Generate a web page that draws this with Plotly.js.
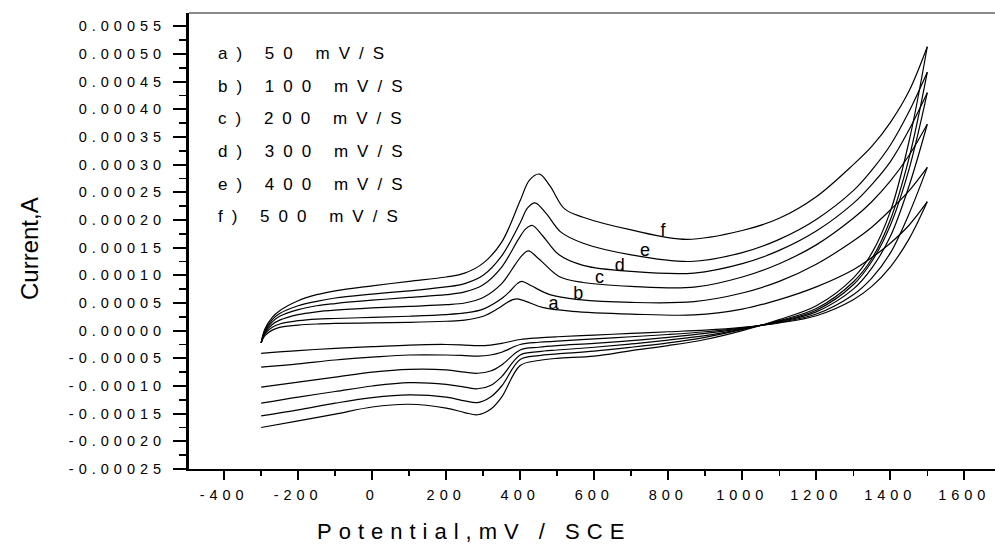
<!DOCTYPE html>
<html>
<head>
<meta charset="utf-8">
<script src="https://cdn.plot.ly/plotly-3.0.1.min.js"></script>
<style>
html, body { margin: 0; padding: 0; background: #fff; }
#chart { width: 995px; height: 548px; }
.xtick text, .ytick text { letter-spacing: 5px; }
</style>
</head>
<body>
<div id="chart"></div>
<script>
// ---------- data ----------
const scanRates = ['a) 50 mV/S', 'b) 100 mV/S', 'c) 200 mV/S', 'd) 300 mV/S', 'e) 400 mV/S', 'f) 500 mV/S'];
const curveLetters = ['a', 'b', 'c', 'd', 'e', 'f'];
const letterX = [490, 557, 614, 669, 737, 786];
const letterY = [0.0000465, 0.0000646, 0.0000935, 0.000116, 0.000143, 0.000179];

// anodic (forward) sweeps, -300 -> 1500 mV
const aUpX = [-300,-290,-270,-250,-200,-150,-100,0,100,200,250,300,340,365,380,392,415,460,540,700,870,1000,1100,1200,1300,1350,1400,1450,1500];
const aUpY = [-0.000022,-0.000009,0.000001,0.000006,0.00001,0.000012,0.000013,0.000014,0.000015,0.000017,0.000019,0.000026,0.00004,0.000051,0.000056,0.0000575,0.000053,0.000042,0.000035,0.00003,0.0000284,0.000039,0.000056,0.000079,0.00011,0.000132,0.000158,0.00019,0.000233];
const bUpX = [-300,-290,-270,-250,-200,-150,-100,0,100,200,250,300,350,375,392,404,430,480,560,700,870,1000,1100,1200,1300,1350,1400,1450,1500];
const bUpY = [-0.000022,-0.000006,0.000006,0.000012,0.000018,0.000021,0.000022,0.000024,0.000026,0.000029,0.000032,0.000039,0.000058,0.000073,0.000085,0.000089,0.000081,0.000065,0.000056,0.000051,0.0000524,0.000068,0.000089,0.00012,0.000162,0.000187,0.000218,0.000252,0.000295];
const cUpX = [-300,-290,-270,-250,-200,-150,-100,0,100,200,250,300,350,385,405,422,450,505,570,700,870,1000,1100,1200,1300,1350,1400,1450,1500];
const cUpY = [-0.000022,-0.000004,0.000011,0.000019,0.000029,0.000034,0.000037,0.000041,0.000044,0.000047,0.00005,0.00006,0.000085,0.000118,0.000136,0.000144,0.00013,0.000098,0.000087,0.00008,0.0000785,0.000097,0.000121,0.000155,0.000203,0.000233,0.00027,0.000316,0.000373];
const dUpX = [-300,-290,-270,-250,-200,-150,-100,0,100,200,250,300,350,395,415,433,460,505,570,700,870,1000,1100,1200,1300,1350,1400,1450,1500];
const dUpY = [-0.000022,-0.000002,0.000016,0.000026,0.000038,0.000045,0.000049,0.000055,0.00006,0.000065,0.00007,0.000083,0.000115,0.000165,0.000184,0.00019,0.000172,0.000137,0.000118,0.000107,0.000104,0.000121,0.000145,0.00018,0.00023,0.000264,0.000305,0.000362,0.00043];
const eUpX = [-300,-290,-270,-250,-200,-150,-100,0,100,200,250,300,350,400,420,440,470,510,570,700,860,1000,1100,1200,1300,1350,1400,1450,1500];
const eUpY = [-0.000022,0.0,0.00002,0.000031,0.000045,0.000053,0.000059,0.000066,0.000072,0.000079,0.000085,0.0001,0.000135,0.000195,0.000222,0.000231,0.000212,0.000178,0.000158,0.000137,0.000125,0.000141,0.000165,0.000201,0.000253,0.00029,0.000335,0.000395,0.000467];
const fUpX = [-300,-290,-270,-250,-200,-150,-100,0,100,200,250,300,350,400,425,452,480,520,570,700,850,1000,1100,1200,1300,1350,1400,1450,1500];
const fUpY = [-0.000022,0.000003,0.000024,0.000036,0.000054,0.000065,0.000072,0.000081,0.000089,0.000097,0.000104,0.000122,0.00016,0.000235,0.000272,0.000283,0.000262,0.00022,0.000205,0.000182,0.000165,0.000181,0.000203,0.000242,0.0003,0.000333,0.000376,0.000432,0.000513];

// cathodic (reverse) sweeps, 1500 -> -300 mV
const lowX = [1500,1450,1400,1350,1300,1200,1100,1000,900,800,700,600,500,450,400,350,320,285,250,200,100,0,-100,-200,-300];
const aLowY = [0.000233,0.000165,0.000115,0.00008,0.000056,0.000027,0.000014,0.000006,0.000001,-0.000002,-0.000005,-0.000008,-0.000011,-0.000013,-0.000016,-0.000023,-0.000026,-0.000027,-0.000026,-0.000025,-0.000026,-0.000029,-0.000032,-0.000036,-0.000041];
const bLowY = [0.000295,0.00021,0.00014,0.000095,0.000065,0.00003,0.000015,0.000005,-0.000002,-0.000007,-0.000011,-0.000015,-0.000019,-0.000021,-0.000025,-0.000039,-0.000044,-0.000046,-0.000045,-0.000044,-0.000044,-0.000048,-0.000053,-0.00006,-0.000066];
const cLowY = [0.000373,0.00026,0.00017,0.000113,0.000075,0.000034,0.000016,0.000004,-0.000005,-0.000012,-0.000018,-0.000023,-0.000027,-0.00003,-0.000035,-0.000062,-0.000073,-0.000077,-0.000075,-0.000071,-0.00007,-0.000075,-0.000084,-0.000093,-0.000102];
const dLowY = [0.00043,0.00029,0.00019,0.000125,0.000083,0.000037,0.000017,0.000003,-0.000009,-0.000017,-0.000024,-0.00003,-0.000035,-0.000038,-0.000044,-0.000083,-0.000099,-0.000105,-0.000102,-0.000097,-0.000094,-0.0001,-0.00011,-0.00012,-0.000131];
const eLowY = [0.000467,0.00031,0.0002,0.00013,0.000088,0.00004,0.000018,0.000002,-0.000012,-0.000022,-0.00003,-0.000037,-0.000042,-0.000045,-0.000052,-0.0001,-0.00012,-0.00013,-0.000127,-0.00012,-0.000116,-0.000121,-0.000131,-0.000143,-0.000154];
const fLowY = [0.000513,0.00034,0.000215,0.00014,0.000095,0.000045,0.00002,0.0,-0.000016,-0.000027,-0.000036,-0.000046,-0.00005,-0.000054,-0.000063,-0.00012,-0.000142,-0.000152,-0.000148,-0.00014,-0.000133,-0.000138,-0.000151,-0.000163,-0.000175];

// axis ticks
const xTickVals = [-400,-200,0,200,400,600,800,1000,1200,1400,1600];
const xTickText = ['-400','-200','0','200','400','600','800','1000','1200','1400','1600'];
const yTickVals = [-0.00025,-0.0002,-0.00015,-0.0001,-0.00005,0,0.00005,0.0001,0.00015,0.0002,0.00025,0.0003,0.00035,0.0004,0.00045,0.0005,0.00055];
const yTickText = ['-0.00025','-0.00020','-0.00015','-0.00010','-0.00005','0.00000','0.00005','0.00010','0.00015','0.00020','0.00025','0.00030','0.00035','0.00040','0.00045','0.00050','0.00055'];

// ---------- drawing ----------
const FONT = 'Liberation Sans, Arial, sans-serif';
const upX = [aUpX, bUpX, cUpX, dUpX, eUpX, fUpX];
const upY = [aUpY, bUpY, cUpY, dUpY, eUpY, fUpY];
const lowY = [aLowY, bLowY, cLowY, dLowY, eLowY, fLowY];

const traces = [];
for (let i = 0; i < 6; i++) {
  traces.push({x: upX[i], y: upY[i], type: 'scatter', mode: 'lines', name: scanRates[i],
    line: {color: '#000', width: 1.2, shape: 'spline', smoothing: 1}, hoverinfo: 'skip'});
  traces.push({x: lowX, y: lowY[i], type: 'scatter', mode: 'lines', name: scanRates[i],
    line: {color: '#000', width: 1.2, shape: 'spline', smoothing: 1}, hoverinfo: 'skip'});
}
traces.push({x: letterX, y: letterY, text: curveLetters, type: 'scatter', mode: 'text',
  textposition: 'middle center', textfont: {family: FONT, size: 18, color: '#000'}, hoverinfo: 'skip'});

// plot area geometry in pixels
const L = 189, T = 13, W = 806, H = 456;
const px2x = p => (p - L) / W;
const px2y = p => (T + H - p) / H;

const annotations = scanRates.map((s, i) => ({
  text: '<span style="letter-spacing:9px">' + s + '</span>',
  xref: 'paper', yref: 'paper', x: px2x(216), y: px2y(53.5 + i * 32.7),
  xanchor: 'left', yanchor: 'middle', showarrow: false,
  font: {family: FONT, size: 17, color: '#000'}
}));
annotations.push({
  text: 'Current,A', textangle: -90, xref: 'paper', yref: 'paper',
  x: px2x(29), y: px2y(249), xanchor: 'center', yanchor: 'middle', showarrow: false,
  font: {family: FONT, size: 24, color: '#000'}
});
annotations.push({
  text: '<span style="letter-spacing:7px">Potential,mV / SCE</span>', xref: 'paper', yref: 'paper',
  x: px2x(474), y: px2y(531), xanchor: 'center', yanchor: 'middle', showarrow: false,
  font: {family: FONT, size: 22, color: '#000'}
});

const layout = {
  width: 995, height: 548,
  margin: {l: L, r: 995 - L - W, t: T, b: 548 - T - H, pad: 0},
  paper_bgcolor: '#fff', plot_bgcolor: '#fff',
  showlegend: false,
  xaxis: {
    range: [-495, 1683], tickmode: 'array', tickvals: xTickVals, ticktext: xTickText,
    showgrid: false, zeroline: false, showline: true, linecolor: '#000', linewidth: 2,
    ticks: 'outside', ticklen: 9, tickwidth: 2, tickcolor: '#000',
    minor: {tickmode: 'linear', tick0: -500, dtick: 100, ticks: 'outside', ticklen: 5, tickwidth: 1.5, tickcolor: '#000', showgrid: false},
    tickfont: {family: FONT, size: 14.5, color: '#000'}, ticklabelstandoff: 3
  },
  yaxis: {
    range: [-0.00025, 0.000574], tickmode: 'array', tickvals: yTickVals, ticktext: yTickText,
    showgrid: false, zeroline: false, showline: true, linecolor: '#000', linewidth: 3,
    ticks: 'outside', ticklen: 13, tickwidth: 2, tickcolor: '#000',
    minor: {tickmode: 'linear', tick0: -0.00025, dtick: 0.000025, ticks: 'outside', ticklen: 7, tickwidth: 1.5, tickcolor: '#000', showgrid: false},
    tickfont: {family: FONT, size: 14.5, color: '#000'}, ticklabelstandoff: 4
  },
  shapes: [{type: 'line', xref: 'paper', yref: 'paper', x0: 0, x1: 1, y0: 1, y1: 1,
    line: {color: '#8a8a8a', width: 2}}],
  annotations: annotations
};

Plotly.newPlot('chart', traces, layout, {staticPlot: true, displayModeBar: false});
</script>
</body>
</html>
